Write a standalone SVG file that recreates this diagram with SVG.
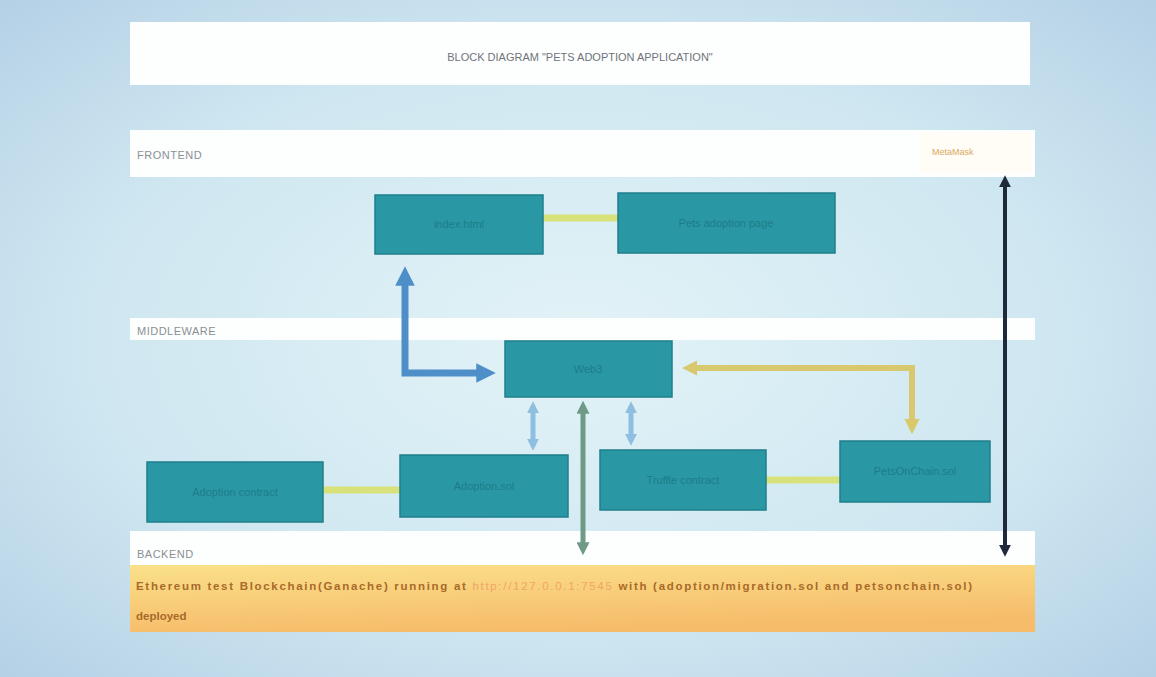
<svg xmlns="http://www.w3.org/2000/svg" width="1156" height="677" viewBox="0 0 1156 677">
<defs>
<radialGradient id="bg" cx="0.5" cy="0.5" r="0.7">
<stop offset="0" stop-color="#e2f3f7"/>
<stop offset="0.6" stop-color="#cfe7f1"/>
<stop offset="1" stop-color="#b5d1e6"/>
</radialGradient>
<linearGradient id="orange" x1="0" y1="0" x2="0.3" y2="1">
<stop offset="0" stop-color="#fbe08a"/>
<stop offset="1" stop-color="#f6bc6a"/>
</linearGradient>
<marker id="ahBlue" viewBox="0 0 10 10" refX="6" refY="5" markerWidth="2.8" markerHeight="2.8" orient="auto-start-reverse"><path d="M0,0 L10,5 L0,10 z" fill="#4e8fca"/></marker>
<marker id="ahYel" viewBox="0 0 10 10" refX="6" refY="5" markerWidth="2.6" markerHeight="2.6" orient="auto-start-reverse"><path d="M0,0 L10,5 L0,10 z" fill="#d9c96e"/></marker>
<marker id="ahBlk" viewBox="0 0 10 10" refX="6" refY="5" markerWidth="3" markerHeight="3" orient="auto-start-reverse"><path d="M0,0 L10,5 L0,10 z" fill="#1e2a3a"/></marker>
<marker id="ahGrn" viewBox="0 0 10 10" refX="6" refY="5" markerWidth="2.6" markerHeight="2.6" orient="auto-start-reverse"><path d="M0,0 L10,5 L0,10 z" fill="#6f9a86"/></marker>
<marker id="ahLb" viewBox="0 0 10 10" refX="6" refY="5" markerWidth="2.4" markerHeight="2.4" orient="auto-start-reverse"><path d="M0,0 L10,5 L0,10 z" fill="#8fbfe0"/></marker>
</defs>
<style>
.bar{fill:#fdfefe;}
.lbl{font-family:"Liberation Sans",Arial,sans-serif;font-size:11px;fill:#8a9096;letter-spacing:0.5px;}
.node{fill:#2a97a4;stroke:#1f7f8c;stroke-width:1.5;}
.nt{font-family:"Liberation Sans",Arial,sans-serif;font-size:11px;fill:#1d7d89;text-anchor:middle;}
.link{stroke:#d7e27a;stroke-width:7;fill:none;}
.ot{font-family:"Liberation Sans",Arial,sans-serif;font-size:11.5px;font-weight:bold;fill:#a86a2a;}
</style>
<rect width="1156" height="677" fill="url(#bg)"/>

<g id="title">
<rect x="130" y="22" width="900" height="63" class="bar"/>
<text x="580" y="61" text-anchor="middle" font-family="Liberation Sans, Arial, sans-serif" font-size="11" fill="#6e747a">BLOCK DIAGRAM "PETS ADOPTION APPLICATION"</text>
</g>

<g id="frontend">
<rect x="130" y="130" width="905" height="47" class="bar"/>
<rect x="920" y="133" width="112" height="40" fill="#fffdf6"/>
<text x="137" y="159" class="lbl">FRONTEND</text>
<text x="932" y="155" font-family="Liberation Sans, Arial, sans-serif" font-size="9" fill="#d9a860">MetaMask</text>
</g>

<g id="middleware">
<rect x="130" y="318" width="905" height="22" class="bar"/>
<text x="137" y="335" class="lbl">MIDDLEWARE</text>
</g>

<g id="backend">
<rect x="130" y="531" width="905" height="34" class="bar"/>
<text x="137" y="558" class="lbl">BACKEND</text>
</g>

<g id="blockchain">
<rect x="130" y="565" width="905" height="67" fill="url(#orange)"/>
<text x="136" y="590" class="ot" textLength="836" lengthAdjust="spacing">Ethereum test Blockchain(Ganache) running at <tspan fill="#f2a466" font-weight="normal">http://127.0.0.1:7545</tspan> with (adoption/migration.sol and petsonchain.sol)</text>
<text x="136" y="620" class="ot">deployed</text>
</g>

<g id="connectors">
<line x1="543" y1="218" x2="618" y2="218" class="link"/>
<line x1="323" y1="490" x2="400" y2="490" class="link"/>
<line x1="766" y1="480" x2="840" y2="480" class="link"/>
<polyline points="488,373 405,373 405,274" fill="none" stroke="#4e8fca" stroke-width="7" marker-start="url(#ahBlue)" marker-end="url(#ahBlue)"/>
<polyline points="688,368 912,368 912,428" fill="none" stroke="#d9c96e" stroke-width="6" marker-start="url(#ahYel)" marker-end="url(#ahYel)"/>
<line x1="533" y1="406" x2="533" y2="446" stroke="#8fbfe0" stroke-width="5" marker-start="url(#ahLb)" marker-end="url(#ahLb)"/>
<line x1="631" y1="406" x2="631" y2="441" stroke="#8fbfe0" stroke-width="5" marker-start="url(#ahLb)" marker-end="url(#ahLb)"/>
<line x1="583" y1="406" x2="583" y2="550" stroke="#6f9a86" stroke-width="5" marker-start="url(#ahGrn)" marker-end="url(#ahGrn)"/>
<line x1="1005" y1="180" x2="1005" y2="552" stroke="#1e2a3a" stroke-width="4" marker-start="url(#ahBlk)" marker-end="url(#ahBlk)"/>
</g>

<g id="n-index"><rect x="375" y="195" width="168" height="59" class="node"/><text x="459" y="228" class="nt">index.html</text></g>
<g id="n-page"><rect x="618" y="193" width="217" height="60" class="node"/><text x="726" y="227" class="nt">Pets adoption page</text></g>
<g id="n-web3"><rect x="505" y="341" width="167" height="56" class="node"/><text x="588" y="373" class="nt">Web3</text></g>
<g id="n-c"><rect x="147" y="462" width="176" height="60" class="node"/><text x="235" y="496" class="nt">Adoption contract</text></g>
<g id="n-d"><rect x="400" y="455" width="168" height="62" class="node"/><text x="484" y="490" class="nt">Adoption.sol</text></g>
<g id="n-e"><rect x="600" y="450" width="166" height="60" class="node"/><text x="683" y="484" class="nt">Truffle contract</text></g>
<g id="n-f"><rect x="840" y="441" width="150" height="61" class="node"/><text x="915" y="475" class="nt">PetsOnChain.sol</text></g>
</svg>
